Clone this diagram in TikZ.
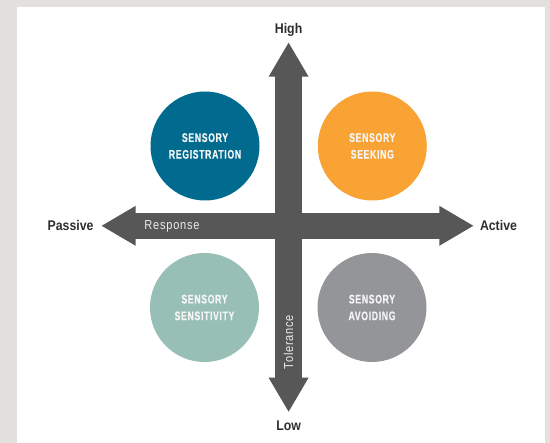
\documentclass[tikz,border=0pt]{standalone}
\usepackage{fontspec}
\setmainfont{Liberation Sans}
\newfontfamily\axisfont{Liberation Sans}[FakeStretch=0.88]
\newfontfamily\circfont{Liberation Sans}[FakeStretch=0.7,LetterSpace=5,FakeBold=0.4]
\newfontfamily\thinfont{Liberation Sans}[FakeStretch=0.85,LetterSpace=6]
\usetikzlibrary{arrows.meta,positioning}
\definecolor{pageGray}{HTML}{E3E1DE}
\definecolor{axisGray}{HTML}{575757}
\definecolor{labelGray}{HTML}{2E2E2E}
\definecolor{regBlue}{HTML}{016B8F}
\definecolor{seekOrange}{HTML}{F9A334}
\definecolor{sensGreen}{HTML}{97BFB5}
\definecolor{avoidGray}{HTML}{939598}
\newcommand{\circsize}{109pt}
\tikzset{
  axistip/.tip={Triangle[length=34pt,width=40pt,line width=0pt]},
  axis/.style={draw=axisGray,line width=26.5pt,line cap=butt,axistip-axistip},
  shaft/.style={draw=axisGray,line width=26.5pt,line cap=butt,shorten <=30pt,shorten >=30pt},
  quad/.style={shape=circle,minimum size=\circsize,inner sep=0,text=white!96!black,align=center,
    font=\circfont\bfseries\fontsize{12.5}{16.7}\selectfont},
  axislabel/.style={inner sep=2pt,text=labelGray,font=\axisfont\bfseries\fontsize{14}{16}\selectfont},
  inlabel/.style={inner sep=0,text=white!92!black,font=\thinfont\fontsize{13}{15}\selectfont},
}

\begin{document}
\begin{tikzpicture}[x=1pt,y=-1pt]
  % page
  \fill[pageGray] (0,0) rectangle (550,443);
  \fill[white] (16.7,7) rectangle (545,443);
  \useasboundingbox (0,0) rectangle (550,443);
  % axes
  \coordinate (n) at (288.6,42.7);
  \coordinate (s) at (288.6,411.7);
  \coordinate (w) at (101.7,225.8);
  \coordinate (e) at (473.3,225.8);
  \draw [axis] (w) -- (e);
  \draw [axis] (s) -- (n);
  \draw [shaft] (w) -- (e);
  \draw [shaft] (s) -- (n);
  \node (high) [axislabel,above=4.5pt of n] {High};
  \node (low) [axislabel,below=7pt of s] {Low};
  \node (passive) [axislabel,left=6pt of w] {Passive};
  \node (active) [axislabel,right=4.5pt of e] {Active};
  \node (response) [inlabel] at (172,226) {Response};
  \node (tolerance) [inlabel,rotate=90] at (288.6,342) {Tolerance};
  % quadrants
  \node (reg) [quad,fill=regBlue] at (205,146) {SENSORY\\REGISTRATION};
  \node (seek) [quad,fill=seekOrange] at (372.3,146) {SENSORY\\SEEKING};
  \node (sens) [quad,fill=sensGreen] at (204.5,307.5) {SENSORY\\SENSITIVITY};
  \node (avoid) [quad,fill=avoidGray] at (372,307.5) {SENSORY\\AVOIDING};
\end{tikzpicture}
\end{document}
